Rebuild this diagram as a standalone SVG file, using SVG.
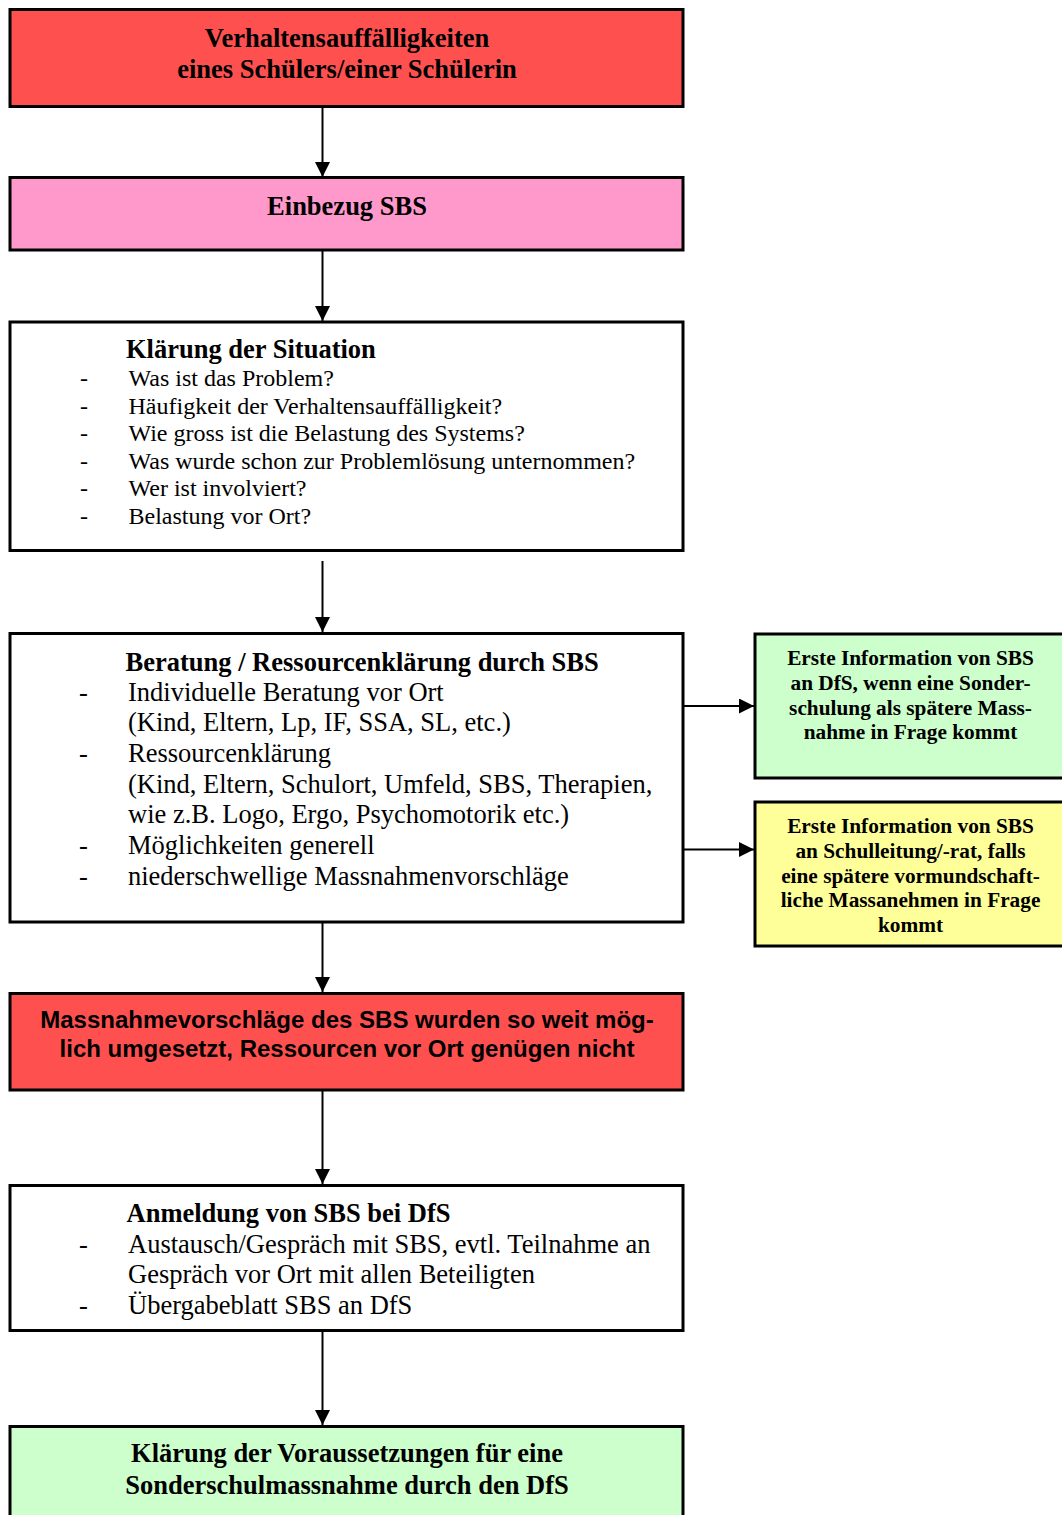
<svg xmlns="http://www.w3.org/2000/svg" width="1062" height="1515" viewBox="0 0 1062 1515">
<style>
.box{stroke:#000;stroke-width:3}
.hb{font-family:"Liberation Serif","Times New Roman",serif;font-weight:bold;font-size:26.5px;fill:#000}
.hc{font-family:"Liberation Serif","Times New Roman",serif;font-weight:bold;font-size:26.5px;fill:#000;text-anchor:middle}
.it{font-family:"Liberation Serif","Times New Roman",serif;font-size:26.5px;fill:#000}
.it24{font-family:"Liberation Serif","Times New Roman",serif;font-size:24px;fill:#000}
.sm{font-family:"Liberation Serif","Times New Roman",serif;font-weight:bold;font-size:21.3px;fill:#000;text-anchor:middle}
.sans{font-family:"Liberation Sans",Arial,sans-serif;font-weight:bold;font-size:24px;fill:#000;text-anchor:middle}
.con{stroke:#000;stroke-width:2;fill:none}
</style>
<defs>
<marker id="ah" markerUnits="userSpaceOnUse" markerWidth="15" markerHeight="15" refX="15" refY="7.5" orient="auto">
<path d="M0,0 L15,7.5 L0,15 z" fill="#000"/>
</marker>
</defs>
<rect width="1062" height="1515" fill="#fff"/>
<g id="connectors">
<line class="con" x1="322.5" y1="107" x2="322.5" y2="177" marker-end="url(#ah)"/>
<line class="con" x1="322.5" y1="251" x2="322.5" y2="321" marker-end="url(#ah)"/>
<line class="con" x1="322.5" y1="561" x2="322.5" y2="632" marker-end="url(#ah)"/>
<line class="con" x1="322.5" y1="923" x2="322.5" y2="992" marker-end="url(#ah)"/>
<line class="con" x1="322.5" y1="1091" x2="322.5" y2="1184" marker-end="url(#ah)"/>
<line class="con" x1="322.5" y1="1332" x2="322.5" y2="1425" marker-end="url(#ah)"/>
<line class="con" x1="684" y1="706" x2="754" y2="706" marker-end="url(#ah)"/>
<line class="con" x1="684" y1="849.5" x2="754" y2="849.5" marker-end="url(#ah)"/>
</g>
<g id="n1">
<rect class="box" x="10" y="9.5" width="673" height="97" fill="#FF5050"/>
<text class="hc" x="347" y="47">Verhaltensauffälligkeiten</text>
<text class="hc" x="347" y="77.5">eines Schülers/einer Schülerin</text>
</g>
<g id="n2">
<rect class="box" x="10" y="177.5" width="673" height="72.5" fill="#FF99CC"/>
<text class="hc" x="347" y="215">Einbezug SBS</text>
</g>
<g id="n3">
<rect class="box" x="10" y="322" width="673" height="228.5" fill="#fff"/>
<text class="hb" x="126" y="358" font-size="26.4">Klärung der Situation</text>
<g class="it24">
<text x="80" y="386">-</text><text x="128.5" y="386">Was ist das Problem?</text>
<text x="80" y="413.5">-</text><text x="128.5" y="413.5">Häufigkeit der Verhaltensauffälligkeit?</text>
<text x="80" y="441">-</text><text x="128.5" y="441">Wie gross ist die Belastung des Systems?</text>
<text x="80" y="468.5">-</text><text x="128.5" y="468.5">Was wurde schon zur Problemlösung unternommen?</text>
<text x="80" y="496">-</text><text x="128.5" y="496">Wer ist involviert?</text>
<text x="80" y="523.5">-</text><text x="128.5" y="523.5">Belastung vor Ort?</text>
</g>
</g>
<g id="n4">
<rect class="box" x="10" y="633.5" width="673" height="288.5" fill="#fff"/>
<text class="hb" x="125.5" y="670.5">Beratung / Ressourcenklärung durch SBS</text>
<g class="it">
<text x="79" y="701">-</text><text x="128" y="701">Individuelle Beratung vor Ort</text>
<text x="128" y="730.5">(Kind, Eltern, Lp, IF, SSA, SL, etc.)</text>
<text x="79" y="762">-</text><text x="128" y="762">Ressourcenklärung</text>
<text x="128" y="792.5">(Kind, Eltern, Schulort, Umfeld, SBS, Therapien,</text>
<text x="128" y="823">wie z.B. Logo, Ergo, Psychomotorik etc.)</text>
<text x="79" y="854">-</text><text x="128" y="854">Möglichkeiten generell</text>
<text x="79" y="884.5">-</text><text x="128" y="884.5">niederschwellige Massnahmenvorschläge</text>
</g>
</g>
<g id="n5">
<rect class="box" x="755" y="634" width="320" height="144" fill="#CCFFCC"/>
<text class="sm" x="910.5" y="665">Erste Information von SBS</text>
<text class="sm" x="910.5" y="690">an DfS, wenn eine Sonder-</text>
<text class="sm" x="910.5" y="714.5">schulung als spätere Mass-</text>
<text class="sm" x="910.5" y="739">nahme in Frage kommt</text>
</g>
<g id="n6">
<rect class="box" x="755" y="802" width="320" height="144" fill="#FFFF99"/>
<text class="sm" x="910.5" y="833">Erste Information von SBS</text>
<text class="sm" x="910.5" y="858">an Schulleitung/-rat, falls</text>
<text class="sm" x="910.5" y="882.5">eine spätere vormundschaft-</text>
<text class="sm" x="910.5" y="907">liche Massanehmen in Frage</text>
<text class="sm" x="910.5" y="931.5">kommt</text>
</g>
<g id="n7">
<rect class="box" x="10" y="993.5" width="673" height="96.5" fill="#FF5050"/>
<text class="sans" x="347" y="1028">Massnahmevorschläge des SBS wurden so weit mög-</text>
<text class="sans" x="347" y="1056.5">lich umgesetzt, Ressourcen vor Ort genügen nicht</text>
</g>
<g id="n8">
<rect class="box" x="10" y="1185.5" width="673" height="145" fill="#fff"/>
<text class="hb" x="126.5" y="1222">Anmeldung von SBS bei DfS</text>
<g class="it">
<text x="79" y="1253">-</text><text x="128" y="1253">Austausch/Gespräch mit SBS, evtl. Teilnahme an</text>
<text x="128" y="1283">Gespräch vor Ort mit allen Beteiligten</text>
<text x="79" y="1313.5">-</text><text x="128" y="1313.5">Übergabeblatt SBS an DfS</text>
</g>
</g>
<g id="n9">
<rect class="box" x="10" y="1426.5" width="673" height="120" fill="#CCFFCC"/>
<text class="hc" x="347" y="1461.5">Klärung der Voraussetzungen für eine</text>
<text class="hc" x="347" y="1493.5">Sonderschulmassnahme durch den DfS</text>
</g>
</svg>
